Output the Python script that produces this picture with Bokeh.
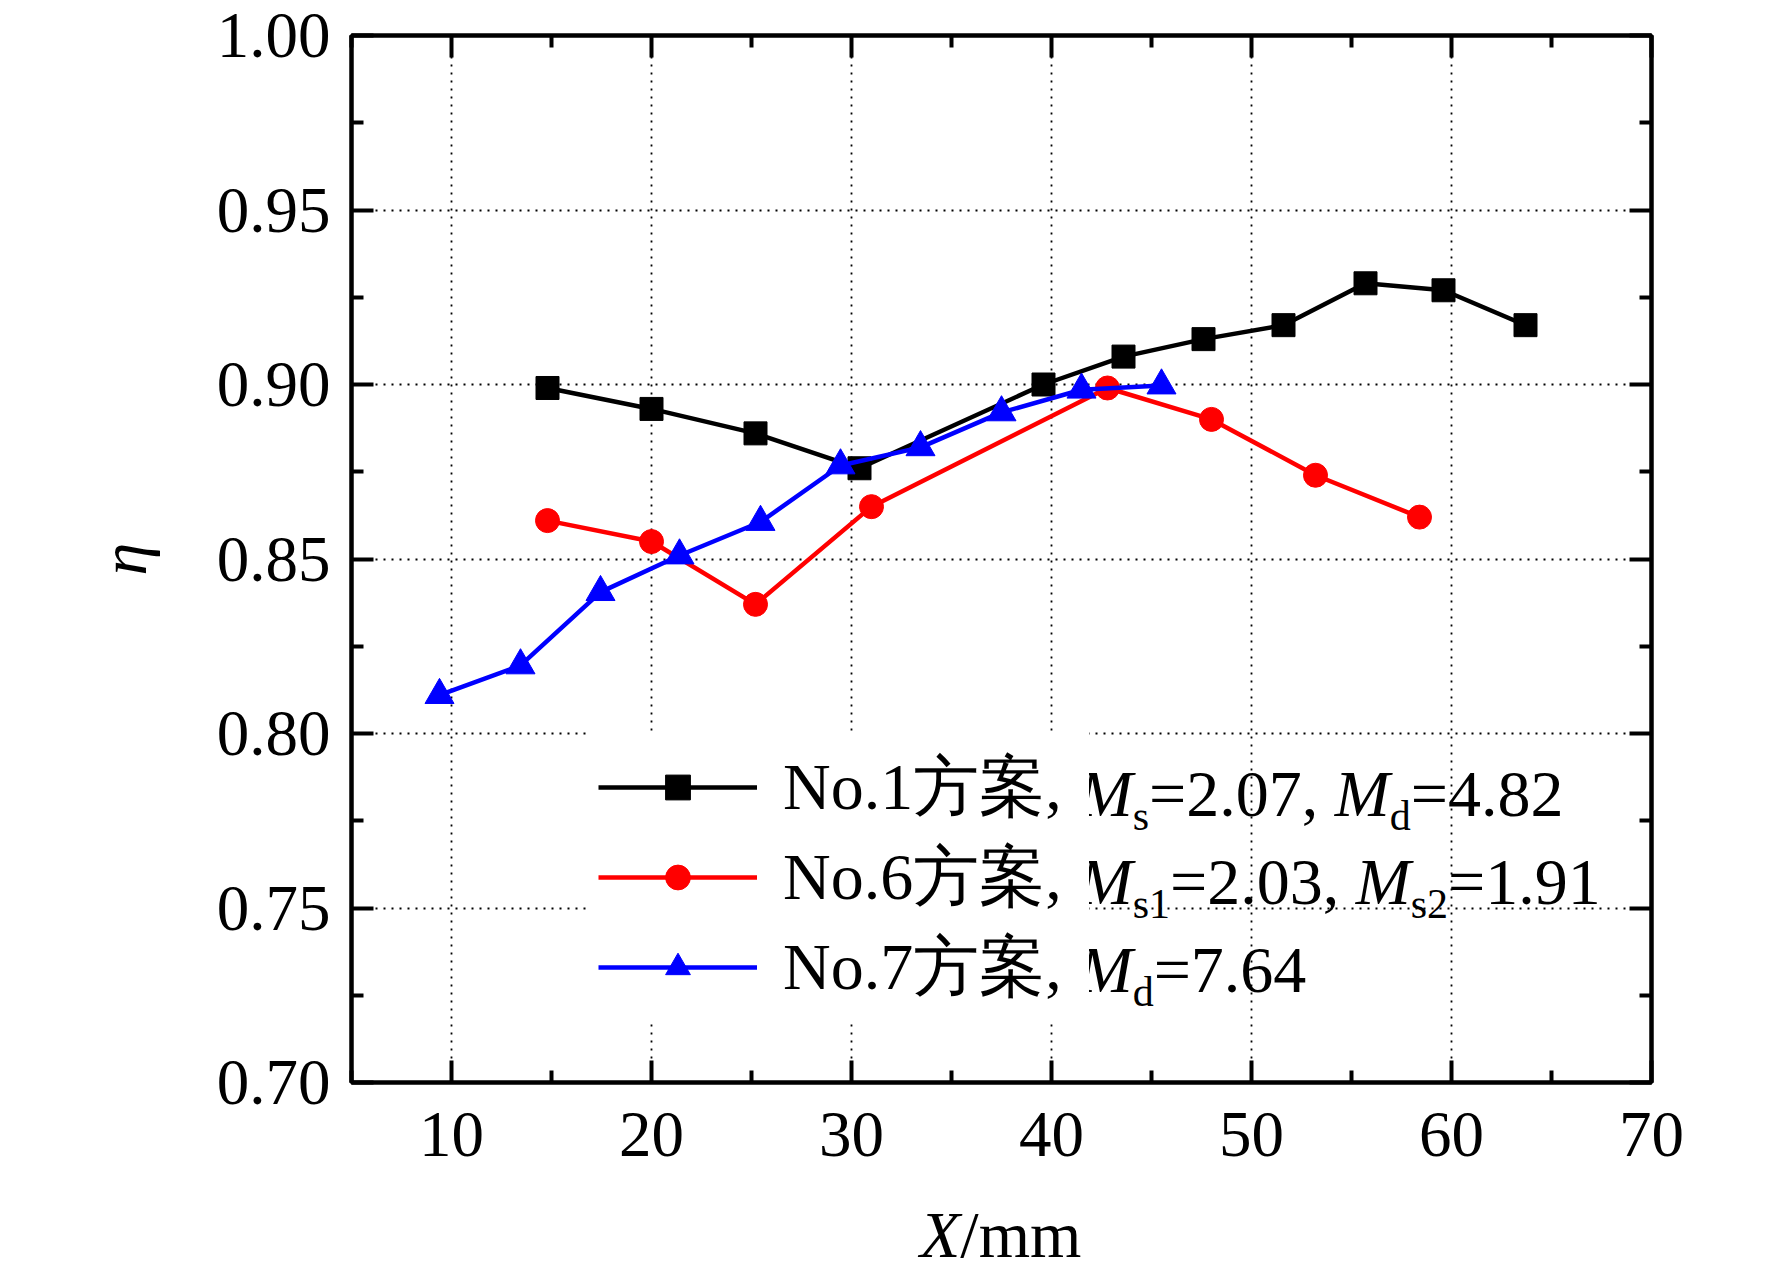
from bokeh.plotting import figure
from bokeh.layouts import column
from bokeh.models import (Range1d, FixedTicker, LinearAxis, PrintfTickFormatter,
                          CustomJSTickFormatter, Legend, LegendItem, Label, Div)
from bokeh.embed import file_html
from bokeh.resources import INLINE

# ---------------- data ----------------
x_no1 = [14.8, 20.0, 25.2, 30.4, 39.6, 43.6, 47.6, 51.6, 55.7, 59.6, 63.7]
y_no1 = [0.899, 0.893, 0.886, 0.876, 0.900, 0.908, 0.913, 0.917, 0.929, 0.927, 0.917]

x_no6 = [14.8, 20.0, 25.2, 31.0, 42.8, 48.0, 53.2, 58.4]
y_no6 = [0.861, 0.855, 0.837, 0.865, 0.899, 0.890, 0.874, 0.862]

x_no7 = [9.4, 13.45, 17.45, 21.4, 25.45, 29.45, 33.45, 37.5, 41.5, 45.5]
y_no7 = [0.811, 0.8195, 0.8405, 0.851, 0.8606, 0.8768, 0.882, 0.892, 0.8985, 0.8997]

x_ticks = [10, 20, 30, 40, 50, 60, 70]
x_minor = [5, 15, 25, 35, 45, 55, 65]
y_ticks = [0.70, 0.75, 0.80, 0.85, 0.90, 0.95, 1.00]
y_minor = [0.725, 0.775, 0.825, 0.875, 0.925, 0.975]

legend_prefix = ["No.1方案, ", "No.6方案, ", "No.7方案, "]
# (text, italic?, subscript?)
legend_rest = [
    [("M", True, False), ("s", False, True), ("=2.07, ", False, False),
     ("M", True, False), ("d", False, True), ("=4.82", False, False)],
    [("M", True, False), ("s1", False, True), ("=2.03, ", False, False),
     ("M", True, False), ("s2", False, True), ("=1.91", False, False)],
    [("M", True, False), ("d", False, True), ("=7.64", False, False)],
]
x_title = ("X", "/mm")
y_title = "η"

# ---------------- layout ----------------
FONT = "Liberation Serif"
W = 1765
BL, BT, FW, FH = 351, 35, 1300, 1047
BR = W - BL - FW
BB = 98
H = BT + FH + BB            # 1180
H2 = 95                     # strip below for the x-axis title
X0, X1, Y0, Y1 = 5, 70, 0.70, 1.00
LW = 4.5

# page-pixel -> data helpers for text annotations inside the frame
def dx(px):
    return X0 + (px - BL) * (X1 - X0) / FW

def dy(py):
    return Y1 - (py - BT) * (Y1 - Y0) / FH

p = figure(width=W, height=H, x_range=Range1d(X0, X1), y_range=Range1d(Y0, Y1),
           output_backend="svg", toolbar_location=None,
           min_border_left=BL, min_border_right=BR, min_border_top=BT, min_border_bottom=BB)
p.background_fill_color = "white"
p.border_fill_color = "white"
p.outline_line_color = "black"
p.outline_line_width = 4

xt = FixedTicker(ticks=x_ticks, minor_ticks=x_minor)
yt = FixedTicker(ticks=y_ticks, minor_ticks=y_minor)

def style_axis(ax, ticker, show_labels):
    ax.ticker = ticker
    ax.axis_line_width = 4
    ax.axis_line_color = "black"
    ax.major_tick_line_width = 4
    ax.minor_tick_line_width = 4
    ax.major_tick_in = 22
    ax.major_tick_out = 0
    ax.minor_tick_in = 12
    ax.minor_tick_out = 0
    ax.major_label_text_font = FONT
    ax.major_label_text_font_size = "65px"
    ax.major_label_text_color = "black"
    if not show_labels:
        ax.formatter = CustomJSTickFormatter(code="return ''")
        ax.major_label_standoff = 0

xb = p.xaxis[0]
yl = p.yaxis[0]
style_axis(xb, xt, True)
style_axis(yl, yt, True)
xb.major_label_standoff = 30
yl.major_label_standoff = 21
yl.formatter = PrintfTickFormatter(format="%.2f")
yl.axis_label = y_title
yl.axis_label_text_font = FONT
yl.axis_label_text_font_style = "italic"
yl.axis_label_text_font_size = "66px"
yl.axis_label_text_color = "black"
yl.axis_label_standoff = 54

xa = LinearAxis()
style_axis(xa, xt, False)
p.add_layout(xa, "above")
yr = LinearAxis()
style_axis(yr, yt, False)
p.add_layout(yr, "right")

p.xgrid.ticker = FixedTicker(ticks=x_ticks[:-1])
p.ygrid.ticker = FixedTicker(ticks=y_ticks[1:-1])
for g in (p.xgrid[0], p.ygrid[0]):
    g.grid_line_color = "black"
    g.grid_line_width = 1.8
    g.grid_line_dash = "2 6"

# ---------------- series ----------------
l1 = p.line(x_no1, y_no1, line_color="black", line_width=LW)
s1 = p.scatter(x_no1, y_no1, marker="square", size=23, fill_color="black", line_color="black")
l6 = p.line(x_no6, y_no6, line_color="#ff0000", line_width=LW)
s6 = p.scatter(x_no6, y_no6, marker="circle", size=24, fill_color="#ff0000", line_color="#ff0000")
l7 = p.line(x_no7, y_no7, line_color="#0000ff", line_width=LW)
s7 = p.scatter(x_no7, y_no7, marker="triangle", size=29, fill_color="#0000ff", line_color="#0000ff")

# ---------------- legend ----------------
F, S = 66, 42
ROW_H = 88
PAD = 10
GLYPH_W = 159
STANDOFF = 26
LEG_LEFT = 587          # legend box left edge (page px)
LEG_TOP = 739           # legend box top edge (page px)
leg_h = 2 * PAD + 3 * ROW_H
leg = Legend(items=[LegendItem(label=legend_prefix[0], renderers=[l1, s1]),
                    LegendItem(label=legend_prefix[1], renderers=[l6, s6]),
                    LegendItem(label=legend_prefix[2], renderers=[l7, s7])],
             location=(LEG_LEFT - BL, (BT + FH) - (LEG_TOP + leg_h)),
             padding=PAD, spacing=0, margin=0,
             glyph_width=GLYPH_W, glyph_height=62, label_height=ROW_H,
             label_standoff=STANDOFF,
             label_text_font=FONT, label_text_font_size=f"{F}px",
             label_text_color="black",
             background_fill_color="white", background_fill_alpha=1.0,
             border_line_color="white", border_line_width=1)
p.add_layout(leg, "center")

REG = {'N': 0.722, 'o': 0.5, '.': 0.25, ',': 0.25, ' ': 0.25, '=': 0.564,
       's': 0.389, 'd': 0.5}
ITAL = {'M': 0.833}

def text_w(t, size, italic=False):
    w = 0.0
    for ch in t:
        if ord(ch) > 0x2E80:
            w += 1.0
        elif italic and ch in ITAL:
            w += ITAL[ch]
        elif ch.isdigit():
            w += 0.5
        else:
            w += REG.get(ch, 0.5)
    return w * size

text_x0 = LEG_LEFT + PAD + GLYPH_W + STANDOFF
for i, (prefix, rest) in enumerate(zip(legend_prefix, legend_rest)):
    cy = LEG_TOP + PAD + ROW_H * (i + 0.5)
    x = text_x0 + text_w(prefix, F)
    for t, ital, sub in rest:
        size = S if sub else F
        yy = cy + 22 if sub else cy
        p.add_layout(Label(x=dx(x), y=dy(yy), text=t, text_font=FONT,
                           text_font_size=f"{size}px",
                           text_font_style="italic" if ital else "normal",
                           text_baseline="middle", text_align="left",
                           text_color="black"))
        x += text_w(t, size, ital)

# ---------------- x-axis title strip (italic X + /mm) ----------------
title_left, title_top = 920, 22
title_html = (f'<div style="margin:{title_top}px 0 0 {title_left}px; '
              f"font-family:'{FONT}', serif; font-size:66px; line-height:66px; "
              f'white-space:nowrap; color:#000;">'
              f'<i>{x_title[0]}</i>{x_title[1]}</div>')
title_div = Div(text=title_html, width=W, height=H2, margin=0)

layout = column(p, title_div, spacing=0)
open("out.html", "w").write(file_html(layout, INLINE))
